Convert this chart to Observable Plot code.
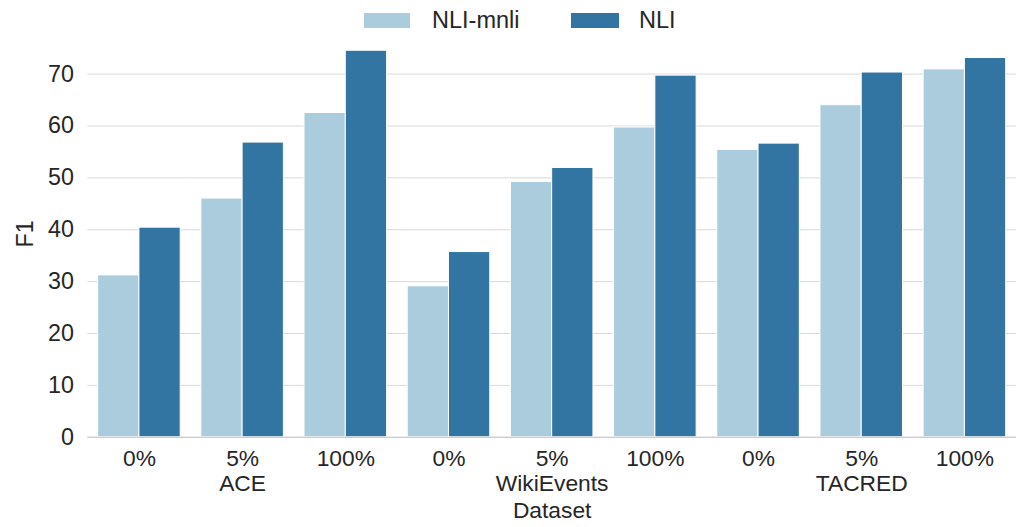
<!DOCTYPE html>
<html><head><meta charset="utf-8">
<script src="https://cdn.jsdelivr.net/npm/d3@7"></script>
<script src="https://cdn.jsdelivr.net/npm/@observablehq/plot@0.6"></script>
<style>
body{margin:0;background:#fff;overflow:hidden;font-family:"Liberation Sans",Arial,sans-serif;}
#legend{position:relative;height:30px;width:1018px;}
.sw{position:absolute;top:13px;height:15px;}
.lb{position:absolute;top:6px;font-size:23.5px;color:#262626;line-height:28px;white-space:nowrap;}
#chart svg{display:block;}
</style></head><body>
<div id="legend"></div>
<div id="chart"></div>
<script>
const datasets = ["ACE", "WikiEvents", "TACRED"];
const splits = ["0%", "5%", "100%"];
const models = ["NLI-mnli", "NLI"];
const colors = ["#abccdd", "#3275a2"];
const nliMnli = [31.2, 46.0, 62.5, 29.1, 49.2, 59.7, 55.4, 64.0, 70.9];
const nli = [40.4, 56.8, 74.5, 35.7, 51.9, 69.7, 56.6, 70.3, 73.1];
const yTicks = [0, 10, 20, 30, 40, 50, 60, 70];

const groups = datasets.flatMap(d => splits.map(s => d + "|" + s));
const rows = groups.flatMap((g, i) => [
  {g, model: models[0], v: nliMnli[i]},
  {g, model: models[1], v: nli[i]}
]);
const dsLabels = datasets.map(d => ({g: d + "|" + splits[1], name: d}));

// legend
const legend = document.getElementById("legend");
const legPos = [[364, 46, 432], [571, 48, 639]];
models.forEach((m, i) => {
  const sw = document.createElement("div");
  sw.className = "sw";
  sw.style.left = legPos[i][0] + "px";
  sw.style.width = legPos[i][1] + "px";
  sw.style.background = colors[i];
  legend.appendChild(sw);
  const lb = document.createElement("div");
  lb.className = "lb";
  lb.style.left = legPos[i][2] + "px";
  lb.textContent = m;
  legend.appendChild(lb);
});

const FS = 23.5;
const FX = 23;
const chart = Plot.plot({
  width: 1026,
  height: 497,
  marginLeft: 85.6,
  marginRight: 0,
  marginTop: 0,
  marginBottom: 87,
  style: {fontFamily: "Liberation Sans, Arial, sans-serif", color: "#262626", background: "#fff"},
  fx: {domain: groups, padding: 0},
  x: {domain: models, paddingInner: 0, paddingOuter: 0.25, axis: null, round: false},
  y: {domain: [0, 78.4]},
  color: {domain: models, range: colors},
  marks: [
    Plot.gridY(yTicks, {stroke: "#d9d9d9", strokeOpacity: 1}),
    Plot.barY(rows, {fx: "g", x: "model", y: "v", fill: "model", stroke: "white", strokeWidth: 1}),
    Plot.ruleY([0], {stroke: "#cccccc", strokeWidth: 1.2}),
    Plot.axisY(yTicks, {tickSize: 0, tickPadding: 14, fontSize: FS, fill: "#262626", stroke: "#cccccc", strokeWidth: 1.2, line: true,
      label: "F1", labelAnchor: "center", labelOffset: 72, labelArrow: "none"}),
    Plot.axisFx({anchor: "bottom", tickSize: 0, tickPadding: 13, fontSize: FX, fill: "#262626",
      tickFormat: g => g.split("|")[1], label: "Dataset", labelAnchor: "center", labelOffset: 81, labelArrow: "none"}),
    Plot.text(dsLabels, {fx: "g", text: "name", frameAnchor: "bottom", lineAnchor: "middle", dy: 47, fontSize: FX, fill: "#262626"})
  ]
});
document.getElementById("chart").appendChild(chart);
</script>
</body></html>
